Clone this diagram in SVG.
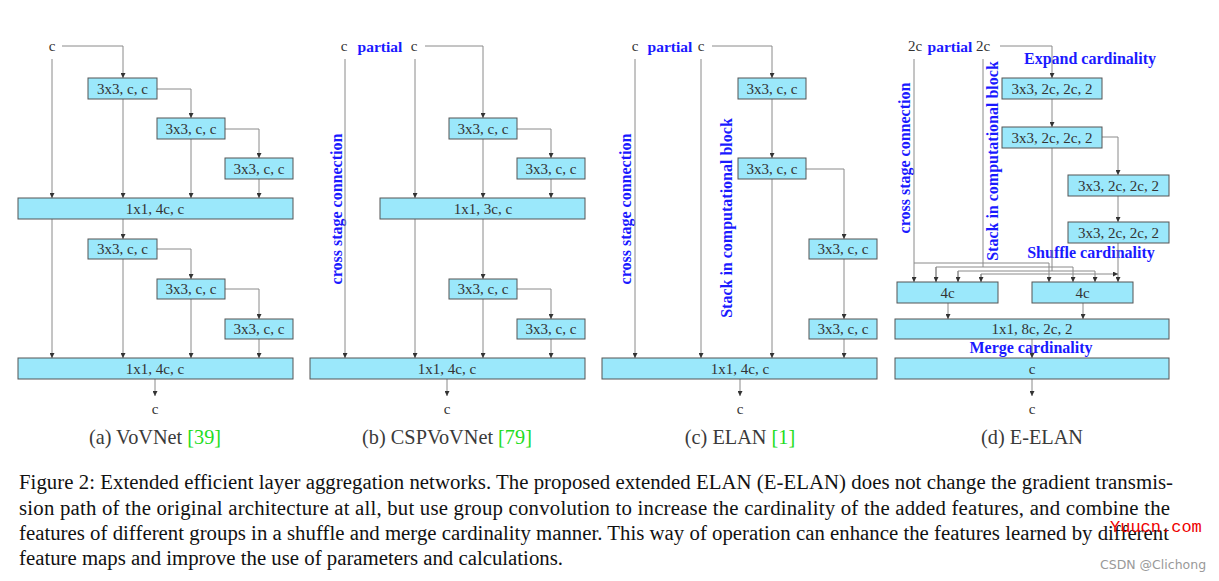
<svg xmlns="http://www.w3.org/2000/svg" width="1219" height="581" viewBox="0 0 1219 581">
<defs>
<style>
.bx{fill:#9be8fb;stroke:#555;stroke-width:1}
.bt{font-family:"Liberation Serif",serif;font-size:15px;fill:#333;text-anchor:middle}
.io{font-family:"Liberation Serif",serif;font-size:15px;fill:#333;text-anchor:middle}
.bl{font-family:"Liberation Serif",serif;font-size:16px;font-weight:bold;fill:#1a1aff}
.rot{font-family:"Liberation Serif",serif;font-size:16px;font-weight:bold;fill:#1a1aff;text-anchor:middle;dominant-baseline:central}
.cap{font-family:"Liberation Serif",serif;font-size:20.3px;fill:#3a3a3a;text-anchor:middle}
.ref{fill:#22dd22}
.fig{font-family:"Liberation Serif",serif;font-size:20.8px;fill:#111}
.ln{fill:none;stroke:#8a8a8a;stroke-width:1}
.ar{marker-end:url(#ah)}
</style>
<marker id="ah" viewBox="0 0 6 6" refX="6" refY="3" markerWidth="5" markerHeight="5" orient="auto" markerUnits="userSpaceOnUse"><path d="M0,0 L6,3 L0,6 z" fill="#333"/></marker>
</defs>
<rect width="1219" height="581" fill="#fff"/>

<g id="labels">
<text class="io" x="52" y="51">c</text>
<text class="io" x="155" y="414">c</text>
<text class="cap" x="155" y="444">(a) VoVNet <tspan class="ref">[39]</tspan></text>

<text class="io" x="344" y="51">c</text>
<text class="bl" x="380" y="52" text-anchor="middle" style="font-size:15.5px">partial</text>
<text class="io" x="414" y="51">c</text>
<text class="rot" x="336" y="209" transform="rotate(-90 336 209)">cross stage connection</text>
<text class="io" x="447" y="414">c</text>
<text class="cap" x="447" y="444">(b) CSPVoVNet <tspan class="ref">[79]</tspan></text>

<text class="io" x="635" y="51">c</text>
<text class="bl" x="670" y="52" text-anchor="middle" style="font-size:15.5px">partial</text>
<text class="io" x="701" y="51">c</text>
<text class="rot" x="625" y="209" transform="rotate(-90 625 209)">cross stage connection</text>
<text class="rot" x="726" y="218" transform="rotate(-90 726 218)">Stack in computational block</text>
<text class="io" x="740" y="414">c</text>
<text class="cap" x="740" y="444">(c) ELAN <tspan class="ref">[1]</tspan></text>

<text class="io" x="915" y="51">2c</text>
<text class="bl" x="950" y="52" text-anchor="middle" style="font-size:15.5px">partial</text>
<text class="io" x="983" y="51">2c</text>
<text class="rot" x="904" y="158" transform="rotate(-90 904 158)">cross stage connection</text>
<text class="rot" x="992" y="161" transform="rotate(-90 992 161)">Stack in computational block</text>
<text class="bl" x="1090" y="64" text-anchor="middle">Expand cardinality</text>
<text class="bl" x="1091" y="258" text-anchor="middle">Shuffle cardinality</text>
<text class="bl" x="1031" y="353" text-anchor="middle">Merge cardinality</text>
<text class="io" x="1032" y="414">c</text>
<text class="cap" x="1032" y="444">(d) E-ELAN</text>
</g>

<g id="connectors" class="ln">
<!-- (a) -->
<path class="ar" d="M62,46 H123 V78"/>
<path class="ar" d="M52,59 V198"/>
<path class="ar" d="M123,99 V198"/>
<path class="ar" d="M157,89 H191 V118"/>
<path class="ar" d="M191,139 V198"/>
<path class="ar" d="M225,129 H259 V158"/>
<path class="ar" d="M259,179 V198"/>
<path class="ar" d="M52,219 V358"/>
<path class="ar" d="M123,219 V239"/>
<path class="ar" d="M123,259 V358"/>
<path class="ar" d="M157,249 H191 V279"/>
<path class="ar" d="M191,299 V358"/>
<path class="ar" d="M225,289 H259 V319"/>
<path class="ar" d="M259,339 V358"/>
<path class="ar" d="M155,379 V396"/>
<!-- (b) -->
<path class="ar" d="M425,46 H483 V118"/>
<path class="ar" d="M345,59 V358"/>
<path class="ar" d="M415,59 V198"/>
<path class="ar" d="M483,139 V198"/>
<path class="ar" d="M517,129 H551 V158"/>
<path class="ar" d="M551,179 V198"/>
<path class="ar" d="M415,219 V358"/>
<path class="ar" d="M483,219 V279"/>
<path class="ar" d="M483,299 V358"/>
<path class="ar" d="M517,289 H551 V319"/>
<path class="ar" d="M551,339 V358"/>
<path class="ar" d="M447,379 V396"/>
<!-- (c) -->
<path class="ar" d="M712,46 H772 V78"/>
<path class="ar" d="M772,99 V158"/>
<path class="ar" d="M635,59 V358"/>
<path class="ar" d="M701,59 V358"/>
<path class="ar" d="M772,179 V358"/>
<path class="ar" d="M806,169 H844 V239"/>
<path class="ar" d="M844,259 V319"/>
<path class="ar" d="M844,339 V358"/>
<path class="ar" d="M740,379 V396"/>
<!-- (d) -->
<path class="ar" d="M1000,46 H1052 V78"/>
<path class="ar" d="M1052,99 V127"/>
<path class="ar" d="M1102,137 H1118 V175"/>
<path class="ar" d="M1118,196 V222"/>
<path class="ar" d="M914,59 V282"/>
<path class="ar" d="M914,263 H1049 V282"/>
<path d="M983,59 V267"/>
<path class="ar" d="M936,282 V267 H1073 V282"/>
<path d="M1052,148 V271"/>
<path class="ar" d="M958,282 V271 H1095 V282"/>
<path class="ar" d="M1118,243 V282"/>
<path class="ar" d="M981,282 V274 H1118"/>
<path class="ar" d="M936,267 V282"/>
<path class="ar" d="M958,271 V282"/>
<path class="ar" d="M981,274 V282"/>
<path class="ar" d="M948,303 V319"/>
<path class="ar" d="M1083,303 V319"/>
<path class="ar" d="M1032,339 V358"/>
<path class="ar" d="M1032,379 V396"/>
</g>

<g id="a1"><rect class="bx" x="88" y="78" width="69" height="21"/><text class="bt" x="122.5" y="94">3x3, c, c</text></g>
<g id="a2"><rect class="bx" x="157" y="118" width="68" height="21"/><text class="bt" x="191" y="134">3x3, c, c</text></g>
<g id="a3"><rect class="bx" x="225" y="158" width="68" height="21"/><text class="bt" x="259" y="174">3x3, c, c</text></g>
<g id="a4"><rect class="bx" x="18" y="198" width="275" height="21"/><text class="bt" x="155" y="214">1x1, 4c, c</text></g>
<g id="a5"><rect class="bx" x="88" y="239" width="69" height="20"/><text class="bt" x="122.5" y="254">3x3, c, c</text></g>
<g id="a6"><rect class="bx" x="157" y="279" width="68" height="20"/><text class="bt" x="191" y="294">3x3, c, c</text></g>
<g id="a7"><rect class="bx" x="225" y="319" width="68" height="20"/><text class="bt" x="259" y="334">3x3, c, c</text></g>
<g id="a8"><rect class="bx" x="18" y="358" width="275" height="21"/><text class="bt" x="155" y="374">1x1, 4c, c</text></g>

<g id="b1"><rect class="bx" x="449" y="118" width="68" height="21"/><text class="bt" x="483" y="134">3x3, c, c</text></g>
<g id="b2"><rect class="bx" x="517" y="158" width="68" height="21"/><text class="bt" x="551" y="174">3x3, c, c</text></g>
<g id="b3"><rect class="bx" x="380" y="198" width="205" height="21"/><text class="bt" x="483" y="214">1x1, 3c, c</text></g>
<g id="b4"><rect class="bx" x="449" y="279" width="68" height="20"/><text class="bt" x="483" y="294">3x3, c, c</text></g>
<g id="b5"><rect class="bx" x="517" y="319" width="68" height="20"/><text class="bt" x="551" y="334">3x3, c, c</text></g>
<g id="b6"><rect class="bx" x="310" y="358" width="275" height="21"/><text class="bt" x="447" y="374">1x1, 4c, c</text></g>

<g id="c1"><rect class="bx" x="738" y="78" width="68" height="21"/><text class="bt" x="772" y="94">3x3, c, c</text></g>
<g id="c2"><rect class="bx" x="738" y="158" width="68" height="21"/><text class="bt" x="772" y="174">3x3, c, c</text></g>
<g id="c3"><rect class="bx" x="809" y="239" width="68" height="20"/><text class="bt" x="843" y="254">3x3, c, c</text></g>
<g id="c4"><rect class="bx" x="809" y="319" width="68" height="20"/><text class="bt" x="843" y="334">3x3, c, c</text></g>
<g id="c5"><rect class="bx" x="602" y="358" width="275" height="21"/><text class="bt" x="740" y="374">1x1, 4c, c</text></g>

<g id="d1"><rect class="bx" x="1002" y="78" width="100" height="21"/><text class="bt" x="1052" y="94">3x3, 2c, 2c, 2</text></g>
<g id="d2"><rect class="bx" x="1002" y="127" width="100" height="21"/><text class="bt" x="1052" y="143">3x3, 2c, 2c, 2</text></g>
<g id="d3"><rect class="bx" x="1068" y="175" width="101" height="21"/><text class="bt" x="1118.5" y="191">3x3, 2c, 2c, 2</text></g>
<g id="d4"><rect class="bx" x="1068" y="222" width="101" height="21"/><text class="bt" x="1118.5" y="238">3x3, 2c, 2c, 2</text></g>
<g id="d5"><rect class="bx" x="897" y="282" width="101" height="21"/><text class="bt" x="947.5" y="298">4c</text></g>
<g id="d6"><rect class="bx" x="1032" y="282" width="101" height="21"/><text class="bt" x="1082.5" y="298">4c</text></g>
<g id="d7"><rect class="bx" x="895" y="319" width="274" height="20"/><text class="bt" x="1032" y="334">1x1, 8c, 2c, 2</text></g>
<g id="d8"><rect class="bx" x="895" y="358" width="274" height="21"/><text class="bt" x="1032" y="374">c</text></g>

<g id="caption">
<text class="fig" x="19" y="489" textLength="1154" lengthAdjust="spacing">Figure 2: Extended efficient layer aggregation networks. The proposed extended ELAN (E-ELAN) does not change the gradient transmis-</text>
<text class="fig" x="19" y="514.5" textLength="1151" lengthAdjust="spacing">sion path of the original architecture at all, but use group convolution to increase the cardinality of the added features, and combine the</text>
<text class="fig" x="19" y="540" textLength="1150" lengthAdjust="spacing">features of different groups in a shuffle and merge cardinality manner. This way of operation can enhance the features learned by different</text>
<text class="fig" x="19" y="565">feature maps and improve the use of parameters and calculations.</text>
</g>
<g id="watermark">
<text x="1110" y="532" style="font-family:'Liberation Mono',monospace;font-size:17px;fill:#e00">Yuucn.com</text>
<text x="1100" y="569" style="font-family:'DejaVu Sans',sans-serif;font-size:12.5px;fill:#999">CSDN @Clichong</text>
</g>
</svg>
